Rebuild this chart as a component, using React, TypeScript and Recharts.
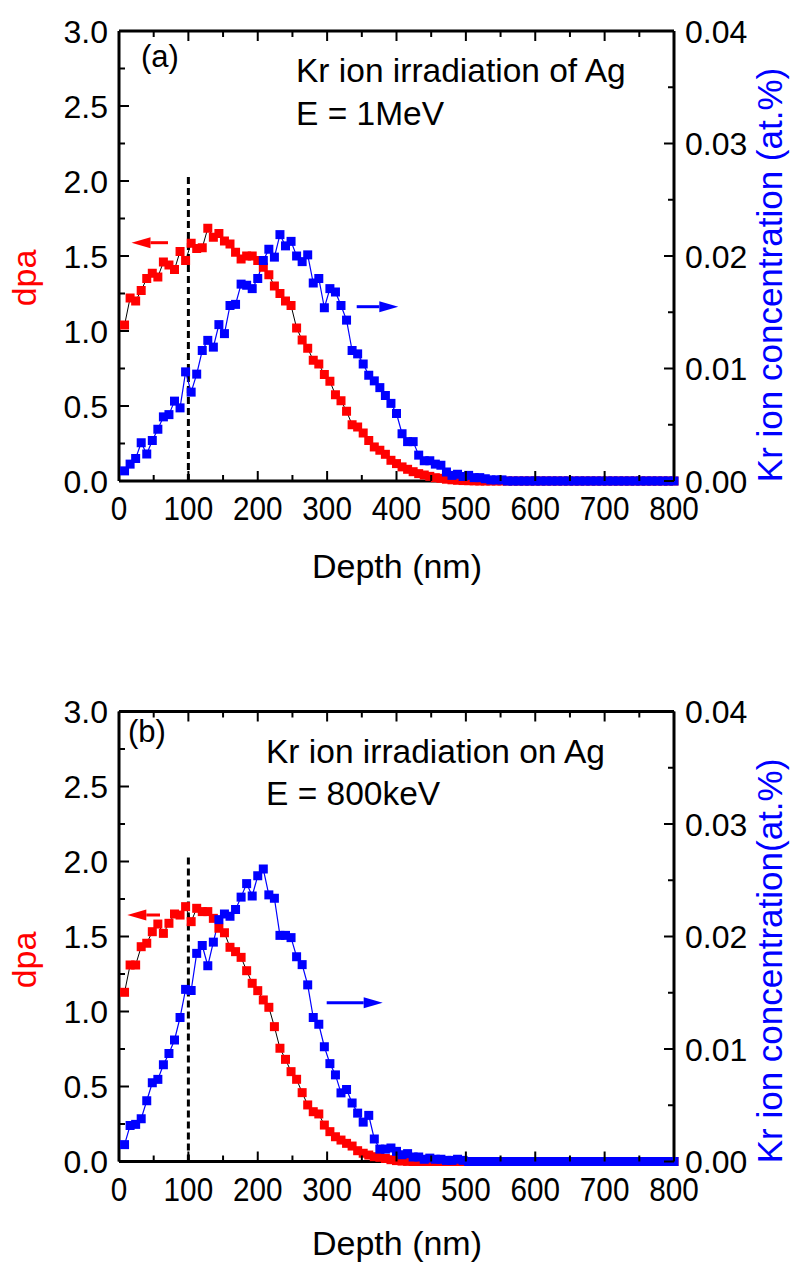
import React from 'react';
import { ComposedChart, Line, XAxis, YAxis, ReferenceLine } from 'recharts';

// ---------- data ----------
const depthNm = [
  8, 16, 24, 32, 40, 48, 56, 64, 72, 80,
  88, 96, 104, 112, 120, 128, 136, 144, 152, 160,
  168, 176, 184, 192, 200, 208, 216, 224, 232, 240,
  248, 256, 264, 272, 280, 288, 296, 304, 312, 320,
  328, 336, 344, 352, 360, 368, 376, 384, 392, 400,
  408, 416, 424, 432, 440, 448, 456, 464, 472, 480,
  488, 496, 504, 512, 520, 528, 536, 544, 552, 560,
  568, 576, 584, 592, 600, 608, 616, 624, 632, 640,
  648, 656, 664, 672, 680, 688, 696, 704, 712, 720,
  728, 736, 744, 752, 760, 768, 776, 784, 792, 800,
];

// Panel (a): 1 MeV
const dpaA = [
  1.04, 1.22, 1.20, 1.27, 1.35, 1.385, 1.36, 1.46, 1.44, 1.41,
  1.53, 1.47, 1.585, 1.55, 1.555, 1.685, 1.625, 1.65, 1.60, 1.58,
  1.525, 1.48, 1.50, 1.50, 1.47, 1.425, 1.375, 1.30, 1.25, 1.20,
  1.17, 1.02, 0.94, 0.885, 0.805, 0.78, 0.71, 0.665, 0.575, 0.535,
  0.465, 0.375, 0.36, 0.32, 0.27, 0.227, 0.205, 0.178, 0.138, 0.116,
  0.094, 0.078, 0.062, 0.049, 0.04, 0.031, 0.022, 0.018, 0.012, 0.008,
  0.005, 0.003, 0.002, 0.001, 0, 0, 0, 0, 0, 0,
  0, 0, 0, 0, 0, 0, 0, 0, 0, 0,
  0, 0, 0, 0, 0, 0, 0, 0, 0, 0,
  0, 0, 0, 0, 0, 0, 0, 0, 0, 0,
];
const krA = [
  0.0009, 0.0015, 0.0020, 0.0034, 0.0024, 0.0036, 0.0046, 0.0057, 0.0059, 0.0071,
  0.0065, 0.0097, 0.0079, 0.0095, 0.0116, 0.0125, 0.0119, 0.0139, 0.0131, 0.0156,
  0.0157, 0.0175, 0.0174, 0.0171, 0.0180, 0.0196, 0.0206, 0.0199, 0.0219, 0.0209,
  0.0213, 0.0200, 0.0195, 0.0201, 0.0176, 0.0180, 0.0154, 0.0171, 0.0168, 0.0156,
  0.0143, 0.0116, 0.0113, 0.0104, 0.0094, 0.0089, 0.0083, 0.0076, 0.0069, 0.0060,
  0.0042, 0.0035, 0.0035, 0.0023, 0.0018, 0.0018, 0.0015, 0.0014, 0.0008, 0.0005,
  0.0006, 0.0004, 0.0005, 0.0003, 0.0003, 0.0002, 0.0001, 0.0001, 0.0001, 0,
  0, 0, 0, 0, 0, 0, 0, 0, 0, 0,
  0, 0, 0, 0, 0, 0, 0, 0, 0, 0,
  0, 0, 0, 0, 0, 0, 0, 0, 0, 0,
];

// Panel (b): 800 keV
const dpaB = [
  1.128, 1.31, 1.31, 1.432, 1.455, 1.532, 1.583, 1.521, 1.588, 1.65,
  1.643, 1.699, 1.599, 1.688, 1.666, 1.666, 1.621, 1.555, 1.525, 1.428,
  1.399, 1.361, 1.272, 1.188, 1.139, 1.077, 1.028, 0.899, 0.755, 0.681,
  0.599, 0.548, 0.459, 0.377, 0.332, 0.317, 0.243, 0.199, 0.165, 0.143,
  0.121, 0.103, 0.072, 0.055, 0.043, 0.032, 0.028, 0.020, 0.012, 0.006,
  0.003, 0.001, 0, 0, 0, 0, 0, 0, 0, 0,
  0, 0, 0, 0, 0, 0, 0, 0, 0, 0,
  0, 0, 0, 0, 0, 0, 0, 0, 0, 0,
  0, 0, 0, 0, 0, 0, 0, 0, 0, 0,
  0, 0, 0, 0, 0, 0, 0, 0, 0, 0,
];
const krB = [
  0.0015, 0.0032, 0.0033, 0.0038, 0.0054, 0.0070, 0.0073, 0.0086, 0.0096, 0.0108,
  0.0128, 0.0153, 0.0152, 0.0185, 0.0192, 0.0174, 0.0195, 0.0215, 0.0220, 0.0218,
  0.0224, 0.0235, 0.0247, 0.0236, 0.0254, 0.0260, 0.0237, 0.0234, 0.0201, 0.0201,
  0.0199, 0.0182, 0.0175, 0.0157, 0.0128, 0.0122, 0.0102, 0.0087, 0.0077, 0.0061,
  0.0064, 0.0052, 0.0043, 0.0035, 0.0041, 0.0020, 0.0011, 0.0011, 0.0012, 0.0009,
  0.0006, 0.0007, 0.0004, 0.0004, 0.0002, 0.0003, 0.0002, 0.0002, 0.0001, 0.0001,
  0.0002, 0.0001, 0, 0, 0, 0, 0, 0, 0, 0,
  0, 0, 0, 0, 0, 0, 0, 0, 0, 0,
  0, 0, 0, 0, 0, 0, 0, 0, 0, 0,
  0, 0, 0, 0, 0, 0, 0, 0, 0, 0,
];

const xTicks = [0, 50, 100, 150, 200, 250, 300, 350, 400, 450, 500, 550, 600, 650, 700, 750, 800];
const dpaTicks = [0, 0.25, 0.5, 0.75, 1, 1.25, 1.5, 1.75, 2, 2.25, 2.5, 2.75, 3];
const concTicks = [0, 0.005, 0.01, 0.015, 0.02, 0.025, 0.03, 0.035, 0.04];
const damageLineTop = 2.04;

// ---------- styling helpers ----------
const FONT = '"Liberation Sans", Arial, Helvetica, sans-serif';
const RED = '#ff0000';
const BLUE = '#0000ff';

const isMajor = (v: number, step: number) => Math.abs(v / step - Math.round(v / step)) < 1e-6;

const BottomTick = (props: any) => {
  const { x, y, payload } = props;
  const v = payload.value;
  const major = isMajor(v, 100);
  return (
    <g>
      <line x1={x} y1={y} x2={x} y2={y - (major ? 10 : 6)} stroke="#000" strokeWidth={2} />
      {major && (
        <text
          transform={`translate(${x},${y + 39}) scale(0.9,1)`}
          textAnchor="middle"
          fontSize={33}
          fontFamily={FONT}
          fill="#000"
        >
          {v}
        </text>
      )}
    </g>
  );
};

const TopTick = (props: any) => {
  const { x, y, payload } = props;
  const major = isMajor(payload.value, 100);
  return <line x1={x} y1={y} x2={x} y2={y + (major ? 10 : 6)} stroke="#000" strokeWidth={2} />;
};

const LeftTick = (props: any) => {
  const { x, y, payload } = props;
  const v = payload.value;
  const major = isMajor(v, 0.5);
  return (
    <g>
      <line x1={x} y1={y} x2={x + (major ? 10 : 6)} y2={y} stroke="#000" strokeWidth={2} />
      {major && (
        <text x={x - 11} y={y + 11.5} textAnchor="end" fontSize={32} fontFamily={FONT} fill="#000">
          {v.toFixed(1)}
        </text>
      )}
    </g>
  );
};

const RightTick = (props: any) => {
  const { x, y, payload } = props;
  const v = payload.value;
  const major = isMajor(v, 0.01);
  return (
    <g>
      <line x1={x} y1={y} x2={x - (major ? 10 : 6)} y2={y} stroke="#000" strokeWidth={2} />
      {major && (
        <text x={x + 11} y={y + 11.5} textAnchor="start" fontSize={32} fontFamily={FONT} fill="#000">
          {v.toFixed(2)}
        </text>
      )}
    </g>
  );
};

const squareDot = (fill: string) => (p: any) => {
  if (p.cx == null || p.cy == null) return <g key={p.index} />;
  return <rect key={p.index} x={p.cx - 4.5} y={p.cy - 4.5} width={9} height={9} fill={fill} stroke="none" />;
};

type PanelProps = {
  dpa: number[];
  kr: number[];
  height: number;
  margin: { top: number; right: number; bottom: number; left: number };
};

const Panel = ({ dpa, kr, height, margin }: PanelProps) => {
  const rows = depthNm.map((d, i) => ({ depth: d, dpa: dpa[i], kr: kr[i] }));
  const axisLine = { stroke: '#000', strokeWidth: 3 };
  return (
    <ComposedChart width={790} height={height} data={rows} margin={margin}>
      <XAxis
        xAxisId="b"
        dataKey="depth"
        type="number"
        domain={[0, 800]}
        ticks={xTicks}
        interval={0}
        tickSize={0}
        tickMargin={0}
        tickLine={false}
        tick={<BottomTick />}
        axisLine={axisLine}
        height={30}
      />
      <XAxis
        xAxisId="t"
        orientation="top"
        dataKey="depth"
        type="number"
        domain={[0, 800]}
        ticks={xTicks}
        interval={0}
        tickSize={0}
        tickMargin={0}
        tickLine={false}
        tick={<TopTick />}
        axisLine={axisLine}
        height={10}
      />
      <YAxis
        yAxisId="l"
        type="number"
        domain={[0, 3]}
        ticks={dpaTicks}
        interval={0}
        tickSize={0}
        tickMargin={0}
        tickLine={false}
        tick={<LeftTick />}
        axisLine={axisLine}
        width={60}
      />
      <YAxis
        yAxisId="r"
        orientation="right"
        type="number"
        domain={[0, 0.04]}
        ticks={concTicks}
        interval={0}
        tickSize={0}
        tickMargin={0}
        tickLine={false}
        tick={<RightTick />}
        axisLine={axisLine}
        width={60}
      />
      <ReferenceLine
        xAxisId="b"
        yAxisId="l"
        segment={[
          { x: 100, y: 0 },
          { x: 100, y: damageLineTop },
        ]}
        stroke="#000"
        strokeWidth={3}
        strokeDasharray="7 4"
      />
      <Line
        xAxisId="b"
        yAxisId="l"
        dataKey="dpa"
        type="linear"
        stroke="#000"
        strokeWidth={1}
        dot={squareDot(RED)}
        activeDot={false}
        isAnimationActive={false}
      />
      <Line
        xAxisId="b"
        yAxisId="r"
        dataKey="kr"
        type="linear"
        stroke={BLUE}
        strokeWidth={1.2}
        dot={squareDot(BLUE)}
        activeDot={false}
        isAnimationActive={false}
      />
    </ComposedChart>
  );
};

const Arrow = ({ x1, x2, y, color }: { x1: number; x2: number; y: number; color: string }) => {
  // x1 = tail, x2 = tip
  const dir = x2 > x1 ? 1 : -1;
  const headLen = 19;
  const base = x2 - dir * headLen;
  return (
    <g>
      <line x1={x1} y1={y} x2={base} y2={y} stroke={color} strokeWidth={3} />
      <polygon points={`${x2},${y} ${base},${y - 5.5} ${base},${y + 5.5}`} fill={color} />
    </g>
  );
};

const Overlay = () => (
  <svg
    width={790}
    height={1264}
    style={{ position: 'absolute', left: 0, top: 0, pointerEvents: 'none' }}
    fontFamily={FONT}
  >
    {/* Panel (a) */}
    <text x={141} y={67} fontSize={31} fill="#000">(a)</text>
    <text x={296} y={82} fontSize={33.5} fill="#000">Kr ion irradiation of Ag</text>
    <text x={296} y={125} fontSize={33.5} fill="#000">E = 1MeV</text>
    <text transform="translate(36,278) rotate(-90)" textAnchor="middle" fontSize={34} fill={RED}>dpa</text>
    <text transform="translate(782,275) rotate(-90)" textAnchor="middle" fontSize={35} fill={BLUE}>
      Kr ion concentration (at.%)
    </text>
    <text x={397} y={578} textAnchor="middle" fontSize={34} fill="#000">Depth (nm)</text>
    <Arrow x1={168} x2={131.5} y={242.7} color={RED} />
    <Arrow x1={356.7} x2={398.3} y={306.7} color={BLUE} />

    {/* Panel (b) */}
    <text x={128} y={742} fontSize={31} fill="#000">(b)</text>
    <text x={266} y={763} fontSize={33.5} fill="#000">Kr ion irradiation on Ag</text>
    <text x={266} y={805} fontSize={33.5} fill="#000">E = 800keV</text>
    <text transform="translate(36,960) rotate(-90)" textAnchor="middle" fontSize={34} fill={RED}>dpa</text>
    <text transform="translate(782,961) rotate(-90)" textAnchor="middle" fontSize={35} fill={BLUE}>
      Kr ion concentration(at.%)
    </text>
    <text x={397} y={1255} textAnchor="middle" fontSize={34} fill="#000">Depth (nm)</text>
    <Arrow x1={160} x2={127.3} y={915} color={RED} />
    <Arrow x1={326.7} x2={382.7} y={1002.7} color={BLUE} />
  </svg>
);

export default function App() {
  return (
    <div style={{ position: 'absolute', left: 0, top: 0, width: 790, height: 1264, background: '#fff' }}>
      <div style={{ position: 'absolute', left: 0, top: 0 }}>
        <Panel dpa={dpaA} kr={krA} height={640} margin={{ top: 21, right: 56, bottom: 129, left: 59 }} />
      </div>
      <div style={{ position: 'absolute', left: 0, top: 680 }}>
        <Panel dpa={dpaB} kr={krB} height={584} margin={{ top: 21.5, right: 56, bottom: 72.5, left: 59 }} />
      </div>
      <Overlay />
    </div>
  );
}
